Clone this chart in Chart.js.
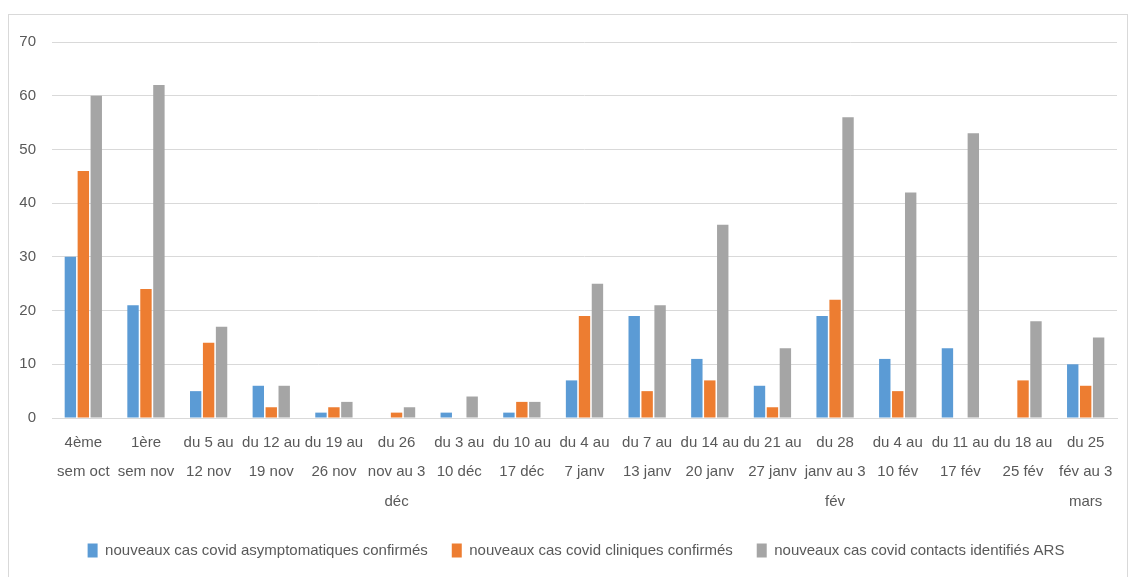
<!DOCTYPE html>
<html>
<head>
<meta charset="utf-8">
<script src="https://cdn.jsdelivr.net/npm/chart.js@4.4.1/dist/chart.umd.min.js"></script>
<style>
    html, body { margin: 0; padding: 0; background: #fff; overflow: hidden; }
    #cadre {
        position: absolute; left: 8px; top: 14px;
        width: 1120px; height: 600px;
        border: 1px solid #d9d9d9; box-sizing: border-box;
    }
    #zone { position: absolute; left: 0; top: 0; width: 1118px; height: 600px; }
</style>
</head>
<body>
<div id="cadre"><div id="zone"><canvas id="casCovid"></canvas></div></div>
<script>
// Données du graphique
const semaines = [
    ["4ème", "sem oct"], ["1ère", "sem nov"], ["du 5 au", "12 nov"], ["du 12 au", "19 nov"],
    ["du 19 au", "26 nov"], ["du 26", "nov au 3", "déc"], ["du 3 au", "10 déc"], ["du 10 au", "17 déc"],
    ["du 4 au", "7 janv"], ["du 7 au", "13 janv"], ["du 14 au", "20 janv"], ["du 21 au", "27 janv"],
    ["du 28", "janv au 3", "fév"], ["du 4 au", "10 fév"], ["du 11 au", "17 fév"], ["du 18 au", "25 fév"],
    ["du 25", "fév au 3", "mars"]
];
const asymptomatiques = [30, 21, 5, 6, 1, 0, 1, 1, 7, 19, 11, 6, 19, 11, 13, 0, 10];
const cliniques = [46, 24, 14, 2, 2, 1, 0, 3, 19, 5, 7, 2, 22, 5, 0, 7, 6];
const contactsARS = [60, 62, 17, 6, 3, 2, 4, 3, 25, 21, 36, 13, 56, 42, 53, 18, 15];

const police = "'Liberation Sans', Arial, sans-serif";
const grisTexte = '#595959';

// décale la légende un peu vers la droite
const decaleLegende = {
    id: 'decaleLegende',
    afterLayout(chart) {
        chart.legend.left += 13;
        chart.legend.right += 13;
    }
};

const ctx = document.getElementById('casCovid').getContext('2d');

new Chart(ctx, {
    type: 'bar',
    data: {
        labels: semaines,
        datasets: [
            { label: 'nouveaux cas covid asymptomatiques confirmés', data: asymptomatiques, backgroundColor: '#5b9bd5' },
            { label: 'nouveaux cas covid cliniques confirmés', data: cliniques, backgroundColor: '#ed7d31' },
            { label: 'nouveaux cas covid contacts identifiés ARS', data: contactsARS, backgroundColor: '#a5a5a5' }
        ]
    },
    options: {
        responsive: true,
        maintainAspectRatio: false,
        animation: false,
        datasets: {
            bar: { categoryPercentage: 0.62, barPercentage: 0.88 }
        },
        layout: { padding: { top: 27, right: 10, left: 0, bottom: 47 } },
        scales: {
            x: {
                grid: { display: false },
                border: { display: true, color: '#d9d9d9', width: 1 },
                ticks: {
                    color: grisTexte,
                    font: { family: police, size: 15, lineHeight: 1.97 },
                    maxRotation: 0, minRotation: 0, autoSkip: false, padding: 2
                },
                afterFit: function (s) { s.height = 101; }
            },
            y: {
                min: 0, max: 70,
                grid: { color: '#d9d9d9', lineWidth: 1, drawTicks: false },
                border: { display: false },
                ticks: {
                    stepSize: 10, color: grisTexte, padding: 16,
                    font: { family: police, size: 15 }
                },
                afterFit: function (s) { s.width = 43; }
            }
        },
        plugins: {
            legend: {
                position: 'bottom',
                labels: {
                    color: grisTexte,
                    boxWidth: 10, boxHeight: 14,
                    padding: 24,
                    font: { family: police, size: 15 }
                }
            },
            tooltip: { enabled: false }
        }
    },
    plugins: [decaleLegende]
});
</script>
</body>
</html>
